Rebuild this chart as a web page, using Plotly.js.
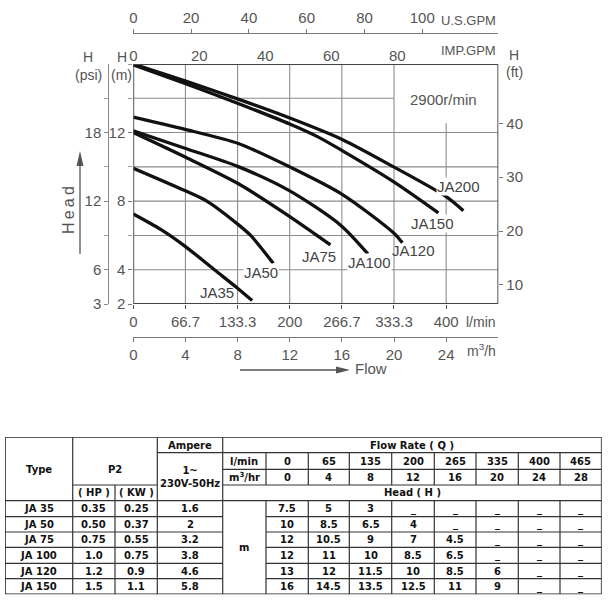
<!DOCTYPE html>
<html><head><meta charset="utf-8">
<script src="https://cdn.plot.ly/plotly-3.0.1.min.js"></script>
<style>html,body{margin:0;padding:0;background:#fff;}#chart{width:613px;height:607px;}</style>
</head><body><div id="chart"></div>
<script>
// ---------- DATA ----------
// Pump curves: flow (l/min) and head (m)
const ja35Q  = [0, 35, 66.7, 105, 132.5, 152];
const ja35H  = [7.25, 6.35, 5.35, 3.95, 2.95, 2.2];
const ja50Q  = [0, 66.7, 94, 135, 150, 179];
const ja50H  = [9.92, 8.6, 8.0, 6.6, 6.0, 4.37];
const ja75Q  = [0, 65, 135, 200, 252];
const ja75H  = [12.0, 10.6, 9.0, 7.1, 5.45];
const ja100Q = [0, 65, 135, 200, 265, 300];
const ja100H = [12.1, 11.1, 10.0, 8.6, 6.6, 4.92];
const ja120Q = [0, 65, 135, 200, 267, 334, 344];
const ja120H = [12.9, 12.2, 11.35, 10.0, 8.4, 6.1, 5.57];
const ja150Q = [0, 67, 134, 200, 236, 267, 334, 390];
const ja150H = [15.95, 14.85, 13.7, 12.5, 11.75, 10.95, 9.1, 7.32];
const ja200Q = [0, 67, 134, 200, 267, 334, 400, 422];
const ja200H = [16.0, 15.0, 13.95, 12.85, 11.6, 9.97, 8.26, 7.44];
const curveNames = ['JA35','JA50','JA75','JA100','JA120','JA150','JA200'];

// Axis tick labels
const lminTicks   = [0, 66.7, 133.3, 200, 266.7, 333.3, 400];
const m3hTicks    = [0, 4, 8, 12, 16, 20, 24];
const usGpmTicks  = [0, 20, 40, 60, 80, 100];
const impGpmTicks = [0, 20, 40, 60, 80];
const headMTicks  = [2, 4, 8, 12];
const headMMinor  = [6, 10, 14, 16];
const headPsiTicks = [3, 6, 12, 18];
const headPsiMinor = [9, 15, 21];
const headFtTicks = [10, 20, 30, 40];

// Table data
const tblTypes = ['JA 35', 'JA 50', 'JA 75', 'JA 100', 'JA 120', 'JA 150'];
const tblHP    = ['0.35', '0.50', '0.75', '1.0', '1.2', '1.5'];
const tblKW    = ['0.25', '0.37', '0.55', '0.75', '0.9', '1.1'];
const tblAmp   = ['1.6', '2', '3.2', '3.8', '4.6', '5.8'];
const tblFlowLmin = ['0', '65', '135', '200', '265', '335', '400', '465'];
const tblFlowM3h  = ['0', '4', '8', '12', '16', '20', '24', '28'];
const headJA35  = ['7.5', '5', '3', '_', '_', '_', '_', '_'];
const headJA50  = ['10', '8.5', '6.5', '4', '_', '_', '_', '_'];
const headJA75  = ['12', '10.5', '9', '7', '4.5', '_', '_', '_'];
const headJA100 = ['12', '11', '10', '8.5', '6.5', '_', '_', '_'];
const headJA120 = ['13', '12', '11.5', '10', '8.5', '6', '_', '_'];
const headJA150 = ['16', '14.5', '13.5', '12.5', '11', '9', '_', '_'];

// ---------- LAYOUT HELPERS ----------
const W = 613, H = 607;
const PX = x => x / W, PY = y => 1 - y / H;
const FONT = '"Liberation Sans", Arial, sans-serif';
const TFONT = '"DejaVu Sans", "Liberation Sans", Arial, sans-serif';
const TXT = '#555';
const plotX = [PX(133.3), PX(498.3)], plotY = [PY(304), PY(64)];
const QMAX = 466.67;

const curves = [[ja35Q,ja35H],[ja50Q,ja50H],[ja75Q,ja75H],[ja100Q,ja100H],[ja120Q,ja120H],[ja150Q,ja150H],[ja200Q,ja200H]];
const traces = curves.map((c, i) => ({
  x: c[0], y: c[1], name: curveNames[i], mode: 'lines', xaxis: 'x', yaxis: 'y',
  line: {color: '#111', width: 3.3, shape: 'spline', smoothing: 0.8}, hoverinfo: 'skip'
}));
const ghost = (xa, ya, x, y) => ({x: [x], y: [y], xaxis: xa, yaxis: ya, mode: 'markers', marker: {opacity: 0}, hoverinfo: 'skip', showlegend: false});
traces.push(ghost('x2', 'y', 1, 5), ghost('x3', 'y', 1, 5), ghost('x4', 'y', 1, 5), ghost('x', 'y2', 10, 10), ghost('x', 'y3', 10, 20), ghost('x5', 'y5', 300, 500));

const tickFont = {family: FONT, size: 15, color: TXT};
const shapes = [];
const annotations = [];

// grid
const gl = {color: '#8c8c8c', width: 1.1};
[66.67, 133.33, 200, 266.67, 333.33].forEach(v => shapes.push({type: 'line', xref: 'x', yref: 'y', x0: v, x1: v, y0: 2, y1: 16, line: gl, layer: 'below'}));
shapes.push({type: 'line', xref: 'x', yref: 'y', x0: 400, x1: 400, y0: 2, y1: 12.55, line: gl, layer: 'below'});
[4, 6, 8, 10, 12].forEach(v => shapes.push({type: 'line', xref: 'x', yref: 'y', x0: 0, x1: QMAX, y0: v, y1: v, line: gl, layer: 'below'}));
shapes.push({type: 'line', xref: 'x', yref: 'y', x0: 0, x1: 333.33, y0: 14, y1: 14, line: gl, layer: 'below'});
shapes.push({type: 'rect', xref: 'x', yref: 'y', x0: 0, x1: QMAX, y0: 2, y1: 16, line: {color: '#444', width: 1.8}});

// curve labels
const curveLabelPos = [[107, 2.66], [162.7, 3.85], [237.6, 4.76], [302.3, 4.41], [358.5, 5.15], [382.4, 6.71], [416.4, 8.84]];
curveNames.forEach((n, i) => annotations.push({
  xref: 'x', yref: 'y', x: curveLabelPos[i][0], y: curveLabelPos[i][1], text: n, showarrow: false,
  font: {family: FONT, size: 15, color: '#444'}, bgcolor: (i === 0 || i === 2 || i === 4) ? 'rgba(0,0,0,0)' : '#fff', borderpad: 0
}));
annotations.push({xref: 'x', yref: 'y', x: 396, y: 13.9, text: '2900r/min', showarrow: false, font: {family: FONT, size: 15, color: TXT}});

// paper texts
const ptxt = (t, x, y, anchor, extra) => annotations.push(Object.assign({xref: 'paper', yref: 'paper', x: PX(x), y: PY(y), text: t, showarrow: false, xanchor: anchor || 'center', yanchor: 'middle', font: {family: FONT, size: 14, color: TXT}}, extra || {}));
const unitFont = {font: {family: FONT, size: 13, color: TXT}};
ptxt('U.S.GPM', 498, 21, 'right', unitFont);
ptxt('IMP.GPM', 498, 50, 'right', unitFont);
ptxt('l/min', 498, 321.7, 'right');
ptxt('m<sup>3</sup>/h', 498, 350, 'right');
ptxt('H', 88.3, 57); ptxt('(psi)', 88.3, 75);
ptxt('H', 121.7, 57); ptxt('(m)', 121.7, 75);
ptxt('H', 514, 55); ptxt('(ft)', 514, 72);
ptxt('Flow', 353, 368.3, 'left', {font: {family: FONT, size: 15, color: TXT}});
ptxt('H\u2009e\u2009a\u2009d', 68, 210, 'center', {textangle: -90, font: {family: FONT, size: 16, color: TXT}});
// arrows (line + head)
const arrowLine = {color: '#555', width: 1.3};
shapes.push({type: 'line', xref: 'paper', yref: 'paper', x0: PX(240), x1: PX(340), y0: PY(370), y1: PY(370), line: arrowLine});
shapes.push({type: 'path', xref: 'paper', yref: 'paper', path: `M ${PX(336)} ${PY(366.5)} L ${PX(350)} ${PY(370)} L ${PX(336)} ${PY(373.5)} Z`, fillcolor: '#555', line: {width: 0}});
shapes.push({type: 'line', xref: 'paper', yref: 'paper', x0: PX(80), x1: PX(80), y0: PY(254), y1: PY(162), line: arrowLine});
shapes.push({type: 'path', xref: 'paper', yref: 'paper', path: `M ${PX(76.5)} ${PY(166)} L ${PX(80)} ${PY(151)} L ${PX(83.5)} ${PY(166)} Z`, fillcolor: '#555', line: {width: 0}});

// ---------- TABLE ----------
const colE = [5, 72.7, 115, 157.3, 222.7, 266, 308.3, 349.3, 391.7, 434.3, 476, 518.3, 560, 601.7];
const rowE = [437.3, 452.7, 469.3, 485, 500.7, 516.7, 532, 547.3, 563.3, 578.7, 594.3];
const tl = {color: '#333', width: 1.2};
const hline = (r, c0, c1, w) => shapes.push({type: 'line', xref: 'x5', yref: 'y5', x0: colE[c0], x1: colE[c1], y0: rowE[r], y1: rowE[r], line: w ? {color: '#222', width: w} : tl});
const vline = (c, r0, r1, w) => shapes.push({type: 'line', xref: 'x5', yref: 'y5', x0: colE[c], x1: colE[c], y0: rowE[r0], y1: rowE[r1], line: w ? {color: '#222', width: w} : tl});
hline(0, 0, 13, 1.6); hline(10, 0, 13, 1.6);
hline(1, 3, 13); hline(2, 4, 13); hline(3, 1, 3); hline(3, 4, 13); hline(4, 0, 13);
for (let r = 5; r <= 9; r++) { hline(r, 0, 4); hline(r, 5, 13); }
vline(0, 0, 10, 1.6); vline(13, 0, 10, 1.6);
vline(1, 0, 10); vline(2, 3, 10); vline(3, 0, 10); vline(4, 0, 10);
for (let c = 5; c <= 12; c++) { vline(c, 1, 3); vline(c, 4, 10); }

const cell = (t, c0, c1, yv) => annotations.push({xref: 'x5', yref: 'y5', x: (colE[c0] + colE[c1]) / 2, y: yv, text: '<b>' + t + '</b>', showarrow: false, xanchor: 'center', yanchor: 'middle', font: {family: TFONT, size: 10, color: '#111'}});
const rc = (r0, r1) => (rowE[r0] + rowE[r1]) / 2;
cell('Type', 0, 1, rc(0, 4));
cell('P2', 1, 3, rc(0, 4));
cell('Ampere', 3, 4, rc(0, 1));
cell('1~<br>230V-50Hz', 3, 4, rc(1, 4));
cell('Flow Rate ( Q )', 4, 13, rc(0, 1));
cell('l/min', 4, 5, rc(1, 2));
cell('m<sup>3</sup>/hr', 4, 5, rc(2, 3));
cell('( HP )', 1, 2, rc(3, 4));
cell('( KW )', 2, 3, rc(3, 4));
cell('Head ( H )', 4, 13, rc(3, 4));
cell('m', 4, 5, rc(4, 10));
tblFlowLmin.forEach((v, j) => cell(v, 5 + j, 6 + j, rc(1, 2)));
tblFlowM3h.forEach((v, j) => cell(v, 5 + j, 6 + j, rc(2, 3)));
const headRows = [headJA35, headJA50, headJA75, headJA100, headJA120, headJA150];
tblTypes.forEach((t, i) => {
  const r = 4 + i;
  cell(t, 0, 1, rc(r, r + 1));
  cell(tblHP[i], 1, 2, rc(r, r + 1));
  cell(tblKW[i], 2, 3, rc(r, r + 1));
  cell(tblAmp[i], 3, 4, rc(r, r + 1));
  headRows[i].forEach((v, j) => cell(v, 5 + j, 6 + j, rc(r, r + 1)));
});

// ---------- AXES ----------
const layout = {
  width: W, height: H, margin: {l: 0, r: 0, t: 0, b: 0, pad: 0},
  paper_bgcolor: '#fff', plot_bgcolor: 'rgba(0,0,0,0)', showlegend: false,
  font: {family: FONT, size: 15, color: TXT},
  xaxis: {domain: plotX, anchor: 'y', range: [0, QMAX], tickmode: 'array', tickvals: lminTicks, ticktext: lminTicks.map(String),
          ticks: 'outside', ticklen: 4, tickcolor: '#555', showgrid: false, zeroline: false, showline: false, tickfont: tickFont},
  xaxis2: {overlaying: 'x', anchor: 'free', position: PY(336.7), side: 'bottom', range: [0, 28], tickmode: 'array', tickvals: m3hTicks,
           ticks: 'outside', ticklen: 4, tickcolor: '#777', showline: true, linecolor: '#777', linewidth: 1, showgrid: false, zeroline: false, tickfont: tickFont},
  xaxis3: {overlaying: 'x', anchor: 'free', position: PY(64), side: 'top', range: [0, 110.6], tickmode: 'array', tickvals: impGpmTicks,
           ticks: '', showline: false, showgrid: false, zeroline: false, tickfont: tickFont},
  xaxis4: {overlaying: 'x', anchor: 'free', position: PY(33), side: 'top', range: [0, 126.3], tickmode: 'array', tickvals: usGpmTicks,
           ticks: 'outside', ticklen: 4, tickcolor: '#777', showline: true, linecolor: '#777', linewidth: 1, showgrid: false, zeroline: false, tickfont: tickFont},
  yaxis: {domain: plotY, anchor: 'x', range: [2, 16], tickmode: 'array', tickvals: headMTicks,
          ticks: 'outside', ticklen: 4, tickcolor: '#777', showgrid: false, zeroline: false, showline: false, tickfont: tickFont,
          minor: {tickmode: 'array', tickvals: headMMinor, ticks: 'outside', ticklen: 4, tickcolor: '#999', showgrid: false}},
  yaxis2: {overlaying: 'y', anchor: 'free', position: PX(108.3), side: 'left', range: [3, 24], tickmode: 'array', tickvals: headPsiTicks,
           ticks: 'outside', ticklen: 4, tickcolor: '#888', showline: true, linecolor: '#888', linewidth: 1, showgrid: false, zeroline: false, tickfont: tickFont,
           minor: {tickmode: 'array', tickvals: headPsiMinor, ticks: 'outside', ticklen: 4, tickcolor: '#999', showgrid: false}},
  yaxis3: {overlaying: 'y', anchor: 'x', side: 'right', range: [6.47, 51.0], tickmode: 'array', tickvals: headFtTicks,
           ticks: 'outside', ticklen: 4, tickcolor: '#777', showline: false, showgrid: false, zeroline: false, tickfont: tickFont},
  xaxis5: {domain: [PX(5), PX(601.7)], anchor: 'y5', range: [5, 601.7], visible: false, fixedrange: true},
  yaxis5: {domain: [PY(594.3), PY(437.3)], anchor: 'x5', range: [594.3, 437.3], visible: false, fixedrange: true},
  shapes: shapes, annotations: annotations
};
Plotly.newPlot('chart', traces, layout, {staticPlot: true, displayModeBar: false});
</script></body></html>
